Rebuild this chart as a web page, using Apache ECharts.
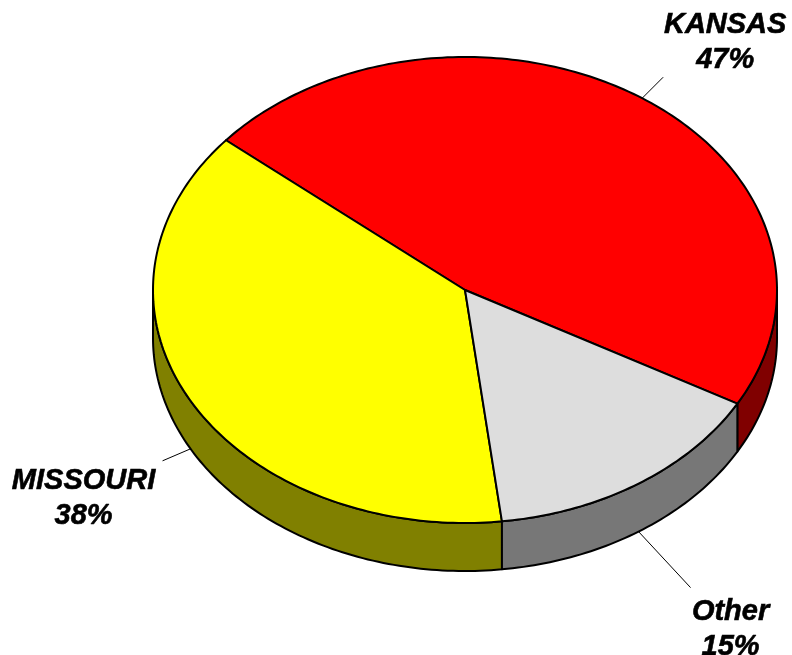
<!DOCTYPE html>
<html>
<head>
<meta charset="utf-8">
<script src="https://cdn.jsdelivr.net/npm/echarts@6/dist/echarts.min.js"></script>
<style>
  html, body { margin: 0; padding: 0; background: #fff; }
  #pie3d { width: 792px; height: 655px; }
</style>
</head>
<body>
<div id="pie3d"></div>
<script>
var names = ['KANSAS', 'MISSOURI', 'Other'];
var values = [47, 38, 15];
var topColors = ['#ff0000', '#ffff00', '#dddddd'];
var sideColors = ['#800000', '#808000', '#777777'];

// ellipse layout of the tilted pie
var cx = 465, cy = 290, rx = 312, ry = 233, depth = 48;
var startAngle = 29.2; // screen degrees, clockwise from east, slices go counterclockwise
// leader end and label centre, relative to the leader start point
var leaderEnd = [[21, -21], [-28, 12], [52, 56]];
var labelPos = [[83, -56], [-107, 50], [92, 98]];

var total = 0;
for (var i = 0; i < values.length; i++) total += values[i];

function pt(deg, dy){
    var r = deg * Math.PI / 180;
    return [cx + rx * Math.cos(r), cy + ry * Math.sin(r) + (dy || 0)];
}

function arc(a, b, dy){
    var pts = [];
    var n = Math.max(2, Math.ceil(Math.abs(b - a)));
    for (var k = 0; k <= n; k++) pts.push(pt(a + (b - a) * k / n, dy));
    return pts;
}

function sliceRange(idx){
    var before = 0;
    for (var i = 0; i < idx; i++) before += values[i];
    var hi = startAngle - before / total * 360;
    var lo = hi - values[idx] / total * 360;
    return [lo, hi];
}

function renderItem(params, api){
    var idx = params.dataIndex;
    var v = api.value(0);
    var r = sliceRange(idx);
    var lo = r[0], hi = r[1];
    var children = [];

    // front wall, only the part between 0 and 180 degrees shows
    [-360, 0, 360].forEach(function(off){
        var a = Math.max(lo + off, 0), b = Math.min(hi + off, 180);
        if (b > a) {
            var pts = arc(a, b, 0).concat(arc(b, a, depth));
            children.push({
                type: 'polygon', z2: 1,
                shape: { points: pts },
                style: { fill: sideColors[idx], stroke: '#000', lineWidth: 2, lineJoin: 'round' }
            });
        }
    });

    // top face
    children.push({
        type: 'polygon', z2: 2,
        shape: { points: [[cx, cy]].concat(arc(lo, hi, 0)) },
        style: { fill: topColors[idx], stroke: '#000', lineWidth: 2, lineJoin: 'round' }
    });

    // leader line and label
    var mid = (lo + hi) / 2;
    var m = ((mid % 360) + 360) % 360;
    var s = pt(mid, (m > 0 && m < 180) ? depth : 0);
    children.push({
        type: 'line', z2: 3,
        shape: { x1: s[0], y1: s[1], x2: s[0] + leaderEnd[idx][0], y2: s[1] + leaderEnd[idx][1] },
        style: { stroke: '#000', lineWidth: 1 }
    });
    children.push({
        type: 'text', z2: 3,
        style: {
            text: names[idx] + '\n' + Math.round(v / total * 100) + '%',
            x: s[0] + labelPos[idx][0],
            y: s[1] + labelPos[idx][1],
            align: 'center',
            verticalAlign: 'middle',
            lineHeight: 35,
            font: 'italic bold 29px "Liberation Sans", Arial, sans-serif',
            fill: '#000',
            stroke: '#000',
            lineWidth: 0.6
        }
    });

    return { type: 'group', children: children };
}

var option = {
    animation: false,
    series: [{
        type: 'custom',
        coordinateSystem: 'none',
        renderItem: renderItem,
        data: values.map(function(v, i){ return [v, i]; })
    }]
};

var myChart = echarts.init(document.getElementById('pie3d'));
myChart.setOption(option);
</script>
</body>
</html>
